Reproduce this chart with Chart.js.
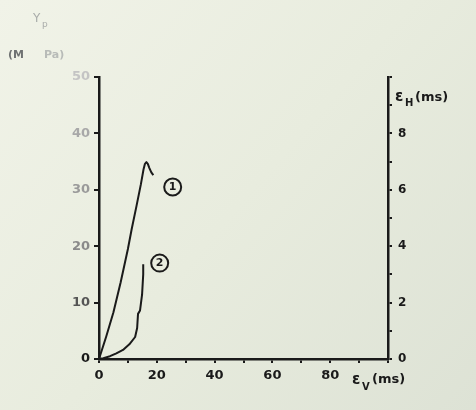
<!DOCTYPE html>
<html><head><meta charset="utf-8">
<script src="https://cdn.jsdelivr.net/npm/chart.js@4/dist/chart.umd.min.js"></script>
<style>html,body{margin:0;padding:0;background:#eaeee0;}canvas{display:block;}</style>
</head><body>
<canvas id="c" width="476" height="410"></canvas>
<script>
// Curve 1: εV (ms) vs Y_p (MPa), left axis
const curve1X = [0, 2.5, 5, 7.5, 10, 11.3, 13, 14.5, 15.4, 15.9, 16.4, 16.9, 17.4, 18.1, 18.8];
const curve1Y = [0, 4, 8.3, 13.6, 19.5, 23, 27.2, 31, 33.6, 34.6, 34.9, 34.6, 33.9, 33.1, 32.6];
// Curve 2: εV (ms) vs εH (ms), right axis
const curve2X = [0, 1.5, 3.8, 6, 8.3, 10.5, 12.5, 13.2, 13.5, 14.2, 14.9, 15.3, 15.3];
const curve2Y = [0, 0.03, 0.1, 0.2, 0.32, 0.52, 0.78, 1.1, 1.6, 1.72, 2.28, 3.0, 3.36];
const xTicks = [0, 20, 40, 60, 80];
const leftTicks = [0, 10, 20, 30, 40, 50];
const rightTicks = [0, 2, 4, 6, 8];
const curveLabels = [
  {text: '1', x: 25.5, y: 30.5, axis: 'y'},
  {text: '2', x: 21, y: 3.4, axis: 'y2'}
];
const leftTickColors = {0: '#1a1a1a', 10: '#555', 20: '#8a8a8a', 30: '#9a9a9a', 40: '#a8a8a8', 50: '#c4c4c4'};

const FONT = "'DejaVu Sans', sans-serif";
const pts = (xs, ys) => xs.map((x, i) => ({x, y: ys[i]}));

const bgPlugin = {
  id: 'bg',
  beforeDraw(chart) {
    const {ctx, width, height} = chart;
    const g = ctx.createLinearGradient(0, 0, width, height);
    g.addColorStop(0, '#f1f3e8');
    g.addColorStop(0.5, '#e8ecde');
    g.addColorStop(1, '#dde2d5');
    ctx.save(); ctx.fillStyle = g; ctx.fillRect(0, 0, width, height); ctx.restore();
  }
};

const textPlugin = {
  id: 'texts',
  afterDraw(chart) {
    const {ctx, scales} = chart;
    ctx.save();
    curveLabels.forEach(l => {
      const px = scales.x.getPixelForValue(l.x);
      const py = scales[l.axis].getPixelForValue(l.y);
      ctx.beginPath(); ctx.lineWidth = 2; ctx.strokeStyle = '#1a1a1a';
      ctx.arc(px, py, 8.5, 0, Math.PI * 2); ctx.stroke();
      ctx.fillStyle = '#1a1a1a'; ctx.font = "bold 11px " + FONT;
      ctx.textAlign = 'center'; ctx.textBaseline = 'middle';
      ctx.fillText(l.text, px, py + 0.5);
    });
    ctx.textAlign = 'left'; ctx.textBaseline = 'alphabetic';
    ctx.fillStyle = '#a9acaa'; ctx.font = "12px " + FONT;
    ctx.fillText('Y', 33, 22);
    ctx.font = "9px " + FONT; ctx.fillText('p', 42, 27);
    ctx.font = "bold 11px " + FONT;
    ctx.fillStyle = '#6f7272'; ctx.fillText('(M', 8, 58);
    ctx.fillStyle = '#b8bbb8'; ctx.fillText('Pa)', 44, 58);
    ctx.fillStyle = '#1a1a1a';
    ctx.font = "bold 15px " + FONT; ctx.fillText('ε', 395, 101);
    ctx.font = "bold 10px " + FONT; ctx.fillText('H', 405, 106);
    ctx.font = "bold 13px " + FONT; ctx.fillText('(ms)', 415, 101);
    ctx.font = "bold 15px " + FONT; ctx.fillText('ε', 352, 384);
    ctx.font = "bold 10px " + FONT; ctx.fillText('V', 362, 390);
    ctx.font = "bold 13px " + FONT; ctx.fillText('(ms)', 372, 383);
    ctx.restore();
  }
};

const ink = '#1a1a1a';
new Chart(document.getElementById('c'), {
  type: 'scatter',
  data: {
    datasets: [
      {data: pts(curve1X, curve1Y), yAxisID: 'y', showLine: true, borderColor: ink, borderWidth: 2, pointRadius: 0, tension: 0, borderJoinStyle: 'round', fill: false},
      {data: pts(curve2X, curve2Y), yAxisID: 'y2', showLine: true, borderColor: ink, borderWidth: 2, pointRadius: 0, tension: 0, borderJoinStyle: 'round', fill: false}
    ]
  },
  options: {
    responsive: false, animation: false, devicePixelRatio: 1,
    layout: {padding: {top: 77, left: 0, right: 0, bottom: 0}},
    plugins: {legend: {display: false}, tooltip: {enabled: false}},
    scales: {
      x: {
        type: 'linear', min: 0, max: 100,
        afterFit(s) { s.height = 51; },
        afterBuildTicks(s) { s.ticks = Array.from({length: 11}, (_, i) => ({value: i * 10})); },
        border: {display: true, color: ink, width: 2.5},
        grid: {drawOnChartArea: false, drawTicks: true, tickLength: 4, color: ink, lineWidth: 2},
        ticks: {color: ink, font: {family: FONT, size: 13, weight: 'bold'}, padding: 5, maxRotation: 0, autoSkip: false,
          callback: v => xTicks.includes(v) ? String(v) : ''}
      },
      y: {
        type: 'linear', position: 'left', min: 0, max: 50,
        afterFit(s) { s.width = 99; },
        afterBuildTicks(s) { s.ticks = leftTicks.map(v => ({value: v})); },
        border: {display: true, color: ink, width: 2.5},
        grid: {drawOnChartArea: false, drawTicks: true, tickLength: 5, color: ink, lineWidth: 2},
        ticks: {font: {family: FONT, size: 13, weight: 'bold'}, padding: 4, autoSkip: false,
          color: c => leftTickColors[c.tick.value] || ink,
          callback: v => String(v)}
      },
      y2: {
        type: 'linear', position: 'right', min: 0, max: 10,
        afterFit(s) { s.width = 88; },
        afterBuildTicks(s) { s.ticks = Array.from({length: 11}, (_, i) => ({value: i})); },
        border: {display: true, color: ink, width: 2.5},
        grid: {drawOnChartArea: false, drawTicks: true, tickLength: 4, color: ink, lineWidth: 2},
        ticks: {color: ink, font: {family: FONT, size: 12, weight: 'bold'}, padding: 6, autoSkip: false,
          callback: v => rightTicks.includes(v) ? String(v) : ''}
      }
    }
  },
  plugins: [bgPlugin, textPlugin]
});
</script>
</body></html>
